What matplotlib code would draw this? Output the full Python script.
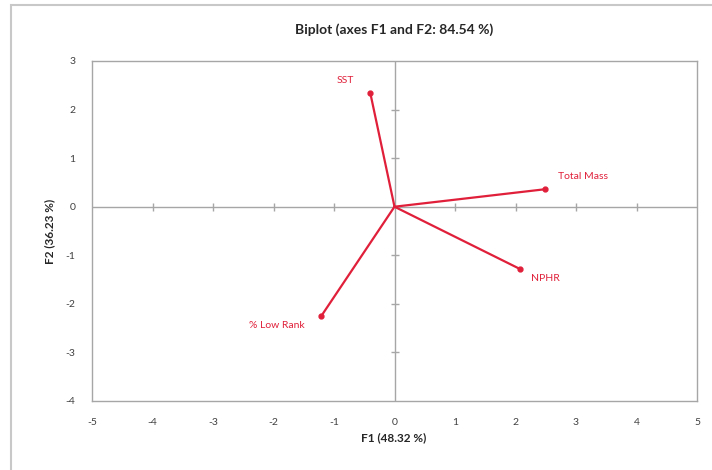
import matplotlib
matplotlib.use("Agg")
import matplotlib.pyplot as plt
from matplotlib.patches import Rectangle

variables = ["SST", "Total Mass", "NPHR", "% Low Rank"]
f1 = [-0.40, 2.49, 2.07, -1.21]
f2 = [2.34, 0.36, -1.28, -2.25]
x_ticks = [-5, -4, -3, -2, -1, 0, 1, 2, 3, 4, 5]
y_ticks = [-4, -3, -2, -1, 0, 1, 2, 3]
title = "Biplot (axes F1 and F2: 84.54 %)"
xlabel = "F1 (48.32 %)"
ylabel = "F2 (36.23 %)"

plt.rcParams['font.family'] = ['Lato', 'DejaVu Sans']
plt.rcParams['axes.unicode_minus'] = False
W, H = 712, 470
fig = plt.figure(figsize=(W/100, H/100), dpi=100)
fig.patch.set_facecolor('white')
fig.add_artist(Rectangle((11/W, -0.05), 1.2, (H-5)/H + 0.05, transform=fig.transFigure,
                         fill=False, edgecolor='#c8c8c8', linewidth=1.5))

ax = fig.add_axes([92/W, 1-401/H, (697-92)/W, (401-61)/H])
ax.set_xlim(-5, 5)
ax.set_ylim(-4, 3)
for s in ax.spines.values():
    s.set_color('#a6a6a6')
    s.set_linewidth(1.0)
ax.set_xticks(x_ticks)
ax.set_yticks(y_ticks)
ax.tick_params(length=0, labelsize=7.5, colors='#404040')
ax.tick_params(axis='x', pad=12)
ax.tick_params(axis='y', pad=12)

ax.axhline(0, color='#a6a6a6', lw=1.0, zorder=1)
ax.axvline(0, color='#a6a6a6', lw=1.0, zorder=1)
xt_inner = [t for t in x_ticks if t not in (-5, 0, 5)]
yt_inner = [t for t in y_ticks if t not in (-4, 0, 3)]
ax.plot(xt_inner, [0]*len(xt_inner), ls='none', marker='|',
        ms=6, color='#a6a6a6', mew=1.0, zorder=1)
ax.plot([0]*len(yt_inner), yt_inner, ls='none', marker='_',
        ms=6, color='#a6a6a6', mew=1.0, zorder=1)

red = '#e0203a'
offsets = {"SST": (-24, 12, 'center'), "Total Mass": (36, 12, 'center'),
           "NPHR": (25, -9, 'center'), "% Low Rank": (-43, -9, 'center')}
for name, x, y in zip(variables, f1, f2):
    ax.plot([0, x], [0, y], color=red, lw=1.6, zorder=3)
    ax.plot([x], [y], 'o', color=red, ms=3.5, zorder=4)
    dx, dy, ha = offsets[name]
    ax.annotate(name, (x, y), xytext=(dx*0.75, dy*0.75), textcoords='offset points',
                ha=ha, va='center', fontsize=7.5, color=red)

fig.text(394/W, 1-30/H, title, ha='center', va='center', fontsize=10, fontweight='bold', color='#262626')
fig.text(394/W, 1-438/H, xlabel, ha='center', va='center', fontsize=8.5, fontweight='bold', color='#262626')
fig.text(50/W, 1-231/H, ylabel, ha='center', va='center', rotation=90, fontsize=8.5, fontweight='bold', color='#262626')

fig.savefig("out.png", dpi=100)
